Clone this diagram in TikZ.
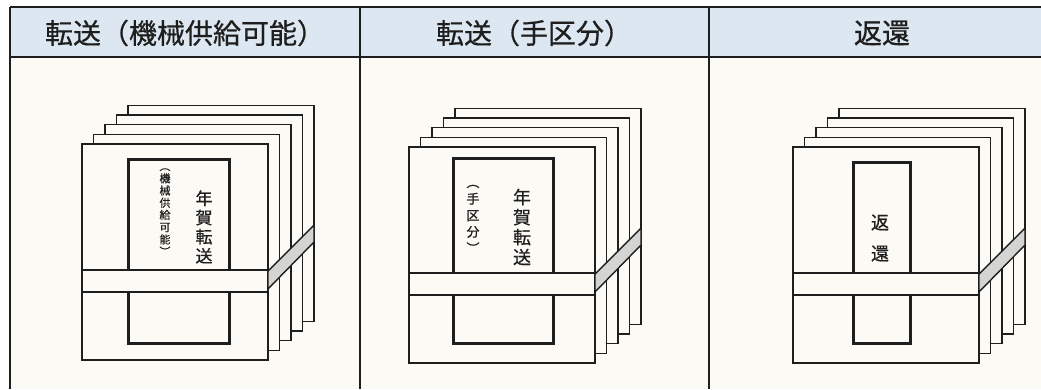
\documentclass[tikz,border=0pt]{standalone}
\usepackage{fontspec}
\setmainfont{Noto Sans CJK JP}[FakeBold=0.6]
\definecolor{headfill}{HTML}{DCE7F1}
\definecolor{paper}{HTML}{FBFAF4}
\definecolor{bandgray}{HTML}{D4D4D2}
\definecolor{ink}{HTML}{1E1E1E}

\tikzset{
  rule/.style={draw=ink, line width=1.3pt},
  sheet/.style={draw=ink, line width=1.4pt, fill=paper, line join=miter},
  labelframe/.style={draw=ink, line width=3pt, fill=paper},
  headtext/.style={inner sep=0pt, font=\fontsize{28}{30}\selectfont, text=ink},
  vtext/.style={inner sep=0pt, align=center, text=ink},
}

% a stack of five sheets; #1,#2 = top-left corner of the front sheet
\newcommand\sheetstack[2]{%
  \begin{scope}[shift={(#1,#2)}]
    \foreach \k in {4,3,2,1}{\draw[sheet] (11.5*\k,-9.7*\k) rectangle ++(186,216);}
    \draw[sheet] (0,0) rectangle (186,216);
  \end{scope}}

% the tie round the stack: front strip and slanted side strip
\newcommand\tieband[2]{%
  \begin{scope}[shift={(#1,#2)}]
    \draw[sheet] (0,126) rectangle (186,148);
    \draw[sheet, fill=bandgray] (186,127) -- (232,81) -- (232,98) -- (186,145) -- cycle;
  \end{scope}}

\begin{document}
\begin{tikzpicture}[x=1pt, y=-1pt]
  \useasboundingbox (0,0) rectangle (1041,389);
  \fill[white] (0,0) rectangle (1041,389);
  \fill[paper] (10,57) rectangle (1041,389);
  \fill[headfill] (10,7) rectangle (1041,57);

  % table rules
  \draw[rule] (10,7) -- (1041,7);
  \draw[rule] (10,57) -- (1041,57);
  \draw[rule] (10,7) -- (10,389);
  \draw[rule] (360,7) -- (360,389);
  \draw[rule] (709,7) -- (709,389);

  % column headings
  \node[headtext] (h1) at (185,33) {転送（機械供給可能）};
  \node[headtext] (h2) at (534,33) {転送（手区分）};
  \node[headtext] (h3) at (882,33) {返還};

  % bundle 1: machine-sortable forwarding
  \sheetstack{82}{144}
  \draw[labelframe] (128,159) rectangle (229,343);
  \node[vtext, font=\fontsize{11}{12.2}\selectfont] (s1) at (165,212) {︵\\機\\械\\供\\給\\可\\能\\︶};
  \node[vtext, font=\fontsize{17}{19.2}\selectfont] (t1) at (204,227) {年\\賀\\転\\送};
  \tieband{82}{144}

  % bundle 2: hand-sorted forwarding
  \sheetstack{409}{147}
  \draw[labelframe] (453,158) rectangle (553,343);
  \node[vtext, font=\fontsize{13}{16.5}\selectfont] (s2) at (473,219) {︵\\手\\区\\分\\︶};
  \node[vtext, font=\fontsize{18}{20}\selectfont] (t2) at (522,227) {年\\賀\\転\\送};
  \tieband{409}{147}

  % bundle 3: return to sender
  \sheetstack{793}{147}
  \draw[labelframe] (853,162) rectangle (910,343);
  \node[vtext, font=\fontsize{18}{31}\selectfont] (t3) at (880,238) {返\\還};
  \tieband{793}{147}
\end{tikzpicture}
\end{document}
